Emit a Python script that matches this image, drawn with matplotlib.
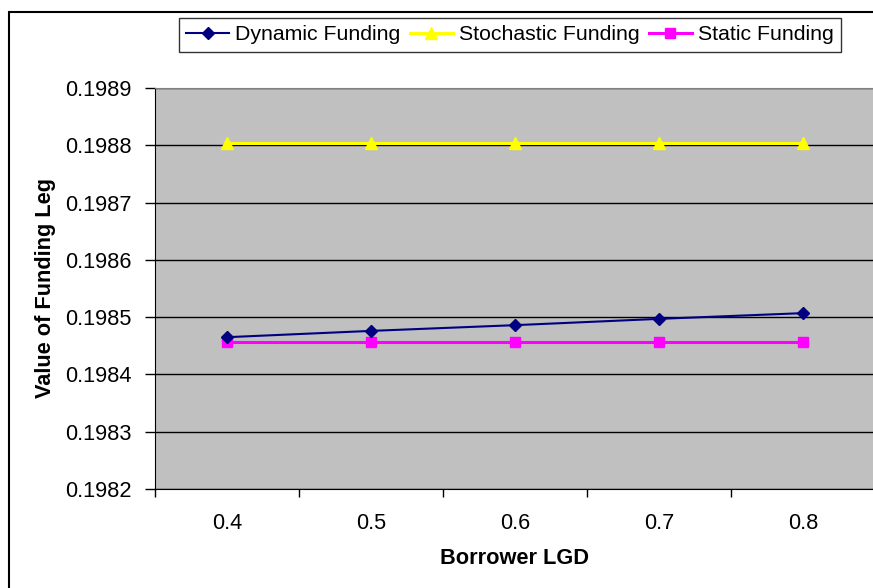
import numpy as np
import matplotlib
matplotlib.use("Agg")
import matplotlib.pyplot as plt
from matplotlib.patches import Rectangle

plt.rcParams['font.family'] = ['Liberation Sans', 'DejaVu Sans']

lgd = ["0.4", "0.5", "0.6", "0.7", "0.8"]
dynamic = [0.198465, 0.198476, 0.198486, 0.198497, 0.198507]
stochastic = [0.198804, 0.198804, 0.198804, 0.198804, 0.198804]
static = [0.198456, 0.198456, 0.198456, 0.198456, 0.198456]
y_ticks = [0.1982, 0.1983, 0.1984, 0.1985, 0.1986, 0.1987, 0.1988, 0.1989]

fs = 15.7

fig = plt.figure(figsize=(8.73, 5.88), dpi=100)
ax = fig.add_axes([155 / 873, 1 - 489 / 588, 720 / 873, 401 / 588])
ax.set_facecolor("#C0C0C0")

x = np.arange(len(lgd))
ax.plot(x, dynamic, color="#000080", lw=1.5, marker="D", ms=6.5, label="Dynamic Funding", zorder=4)
ax.plot(x, stochastic, color="#FFFF00", lw=2.2, marker="^", ms=8, label="Stochastic Funding", zorder=3)
ax.plot(x, static, color="#FF00FF", lw=2.2, marker="s", ms=6.5, label="Static Funding", zorder=3)

ax.set_xlim(-0.5, len(lgd) - 0.5)
ax.set_ylim(y_ticks[0], y_ticks[-1])
ax.set_yticks(y_ticks)
ax.set_yticklabels([f"{v:.4f}" for v in y_ticks], fontsize=fs)
ax.yaxis.grid(True, color="black", lw=1)
ax.set_axisbelow(True)

# category ticks between the groups, labels at the centres
ax.set_xticks(np.arange(-0.5, len(lgd)))
ax.set_xticklabels([])
ax.set_xticks(x, minor=True)
ax.set_xticklabels(lgd, minor=True, fontsize=fs)
ax.tick_params(axis="x", which="major", length=6, width=1, direction="out")
ax.tick_params(axis="x", which="minor", length=0, pad=17)
ax.tick_params(axis="y", length=7, width=1, direction="out", pad=10)

ax.spines["left"].set_color("black")
ax.spines["bottom"].set_color("black")
ax.spines["top"].set_color("#808080")
ax.spines["right"].set_color("#808080")

ax.set_xlabel("Borrower LGD", fontsize=fs, fontweight="bold", labelpad=10)
ax.set_ylabel("Value of Funding Leg", fontsize=fs, fontweight="bold", labelpad=6)

leg = fig.legend(loc="center", bbox_to_anchor=(510 / 873, 1 - 35 / 588), ncol=3,
                 fontsize=15.3, frameon=True, fancybox=False, edgecolor="black",
                 handlelength=2.0, handletextpad=0.3, columnspacing=0.45,
                 borderpad=0.35, borderaxespad=0)
leg.get_frame().set_linewidth(1)

fig.patches.append(Rectangle((9 / 873, -0.1), 1.2, 1.1 - 12 / 588, fill=False,
                             edgecolor="black", lw=1.5, transform=fig.transFigure))

fig.savefig("out.png", dpi=100)
